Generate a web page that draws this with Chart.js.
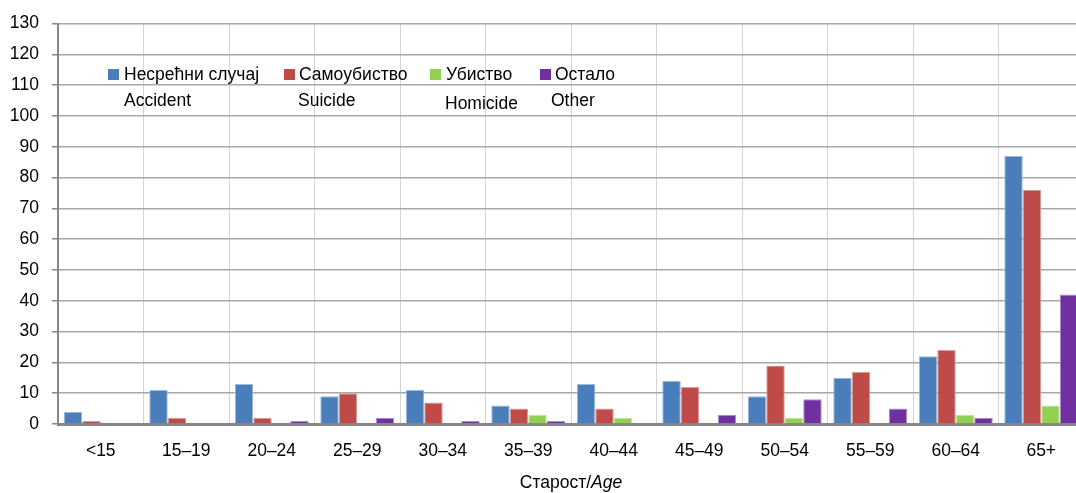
<!DOCTYPE html>
<html>
<head>
<meta charset="utf-8">
<script src="https://cdn.jsdelivr.net/npm/chart.js@4.4.1/dist/chart.umd.min.js"></script>
<style>
  html, body { margin: 0; padding: 0; background: #fff; overflow: hidden; }
  #wrap { width: 1084px; height: 493px; }
</style>
</head>
<body>
<div id="wrap"><canvas id="deathChart" width="1084" height="493"></canvas></div>
<script>
// categories (age groups)
const ageGroups = ['<15', '15–19', '20–24', '25–29', '30–34', '35–39', '40–44', '45–49', '50–54', '55–59', '60–64', '65+'];

// series values
const accident = [4, 11, 13, 9, 11, 6, 13, 14, 9, 15, 22, 87];
const suicide  = [1, 2, 2, 10, 7, 5, 5, 12, 19, 17, 24, 76];
const homicide = [0, 0, 0, 0, 0, 3, 2, 0, 2, 0, 3, 6];
const other    = [0, 0, 1, 2, 1, 1, 0, 3, 8, 5, 2, 42];

// legend texts (Serbian / English)
const labelsSr = ['Несрећни случај', 'Самоубиство', 'Убиство', 'Остало'];
const labelsEn = ['Accident', 'Suicide', 'Homicide', 'Other'];

// axis
const yMax = 130;
const yStep = 10;
const axisTitleSr = 'Старост/';
const axisTitleEn = 'Age';

const FONT = '"Liberation Sans Narrow", "Arial Narrow", "Liberation Sans", Arial, sans-serif';
const colors  = ['#4a7ebb', '#be4b48', '#92d050', '#7030a0'];
const borders = ['#9db9dc', '#dc9c9a', '#c3e59d', '#b08ccc'];

// legend: two lines, square only next to the Serbian text
const legendPlugin = {
    id: 'twoLineLegend',
    afterDraw(chart) {
        const ctx = chart.ctx;
        const sqX = [108, 284, 430, 540];
        const txX = [124, 299, 446, 555];
        const enX = [124, 298, 445, 551];
        const enY = [101, 101, 104, 101];
        ctx.save();
        ctx.font = '17.5px ' + FONT;
        ctx.textBaseline = 'middle';
        ctx.textAlign = 'left';
        for (let i = 0; i < labelsSr.length; i++) {
            ctx.fillStyle = colors[i];
            ctx.fillRect(sqX[i], 69, 11, 11);
            ctx.fillStyle = '#000';
            ctx.fillText(labelsSr[i], txX[i], 75);
            ctx.fillText(labelsEn[i], enX[i], enY[i]);
        }
        ctx.restore();
    }
};

// x axis title: normal + italic part
const axisTitlePlugin = {
    id: 'axisTitle',
    afterDraw(chart) {
        const ctx = chart.ctx;
        const area = chart.chartArea;
        ctx.save();
        ctx.textBaseline = 'middle';
        ctx.textAlign = 'left';
        ctx.font = '17.5px ' + FONT;
        const w1 = ctx.measureText(axisTitleSr).width;
        ctx.font = 'italic 17.5px ' + FONT;
        const w2 = ctx.measureText(axisTitleEn).width;
        const x0 = (area.left + area.right) / 2 - (w1 + w2) / 2;
        ctx.fillStyle = '#000';
        ctx.font = '17.5px ' + FONT;
        ctx.fillText(axisTitleSr, x0, 483);
        ctx.font = 'italic 17.5px ' + FONT;
        ctx.fillText(axisTitleEn, x0 + w1, 483);
        ctx.restore();
    }
};

const series = [accident, suicide, homicide, other];

new Chart(document.getElementById('deathChart'), {
    type: 'bar',
    data: {
        labels: ageGroups,
        datasets: series.map((d, i) => ({
            label: labelsSr[i],
            data: d,
            backgroundColor: colors[i],
            borderColor: borders[i],
            borderWidth: 1,
            categoryPercentage: 0.865,
            barPercentage: 1
        }))
    },
    options: {
        responsive: false,
        animation: false,
        layout: { padding: { top: 23, left: 0, right: 0, bottom: 0 } },
        scales: {
            x: {
                afterFit(scale) { scale.height = 69; },
                grid: { color: '#d4d4d4', lineWidth: 1, drawTicks: false, offset: true },
                border: { color: '#878787', width: 3 },
                ticks: { color: '#000', font: { size: 17.5, family: FONT }, padding: 17, maxRotation: 0, autoSkip: false }
            },
            y: {
                min: 0,
                max: yMax,
                afterFit(scale) { scale.width = 58; },
                grid: { color: '#a8a8a8', lineWidth: 1.5, tickLength: 6, tickColor: '#878787', tickWidth: 1.5 },
                border: { color: '#878787', width: 2 },
                ticks: { stepSize: yStep, color: '#000', font: { size: 17.5, family: FONT }, padding: 13 }
            }
        },
        plugins: {
            legend: { display: false },
            tooltip: { enabled: false }
        }
    },
    plugins: [legendPlugin, axisTitlePlugin]
});
</script>
</body>
</html>
